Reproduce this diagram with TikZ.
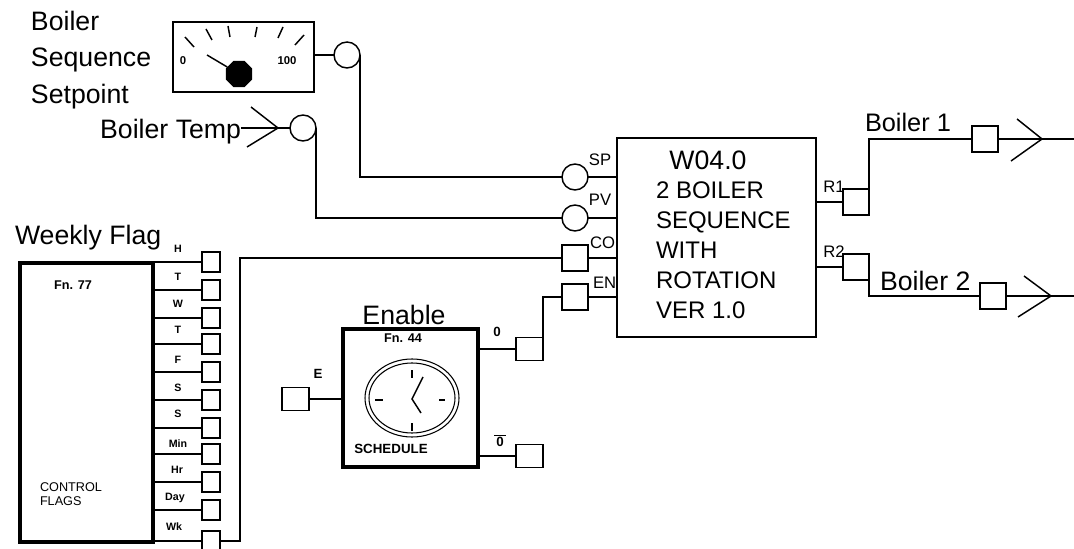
\documentclass[tikz,border=0pt]{standalone}
\usepackage{fontspec}
\setmainfont{Liberation Sans}
\usetikzlibrary{shapes.geometric, positioning}

\begin{document}
\begin{tikzpicture}[
  x=0.75pt, y=-0.75pt,
  every node/.style={inner sep=0pt, outer sep=0pt},
  block/.style={rectangle, draw, line width=1.1pt, fill=white},
  heavyblock/.style={rectangle, draw, line width=2.4pt, fill=white},
  port/.style={rectangle, draw, line width=1.1pt, fill=white, minimum width=19.5pt, minimum height=19.5pt},
  flagport/.style={rectangle, draw, line width=1.1pt, fill=white, minimum width=13.5pt, minimum height=15pt},
  schedport/.style={rectangle, draw, line width=1.1pt, fill=white, minimum width=20pt, minimum height=17pt},
  ring/.style={circle, draw, line width=1.1pt, fill=white, minimum size=19.5pt},
  wire/.style={line width=1.1pt},
  lbl/.style={font=\fontsize{20}{24}\selectfont},
  pin/.style={font=\fontsize{12.5}{15}\selectfont},
  flaglbl/.style={font=\fontsize{8}{10}\selectfont\bfseries},
  schedlbl/.style={font=\fontsize{10}{12}\selectfont\bfseries},
  smalllbl/.style={font=\fontsize{9.5}{11.5}\selectfont\bfseries}
]
\useasboundingbox (0,0) rectangle (1074,549);

% pin names sit under the main block
\node[pin] (spLbl) at (600,160) {SP};
\node[pin] (pvLbl) at (600,200) {PV};
\node[pin, anchor=west] (coLbl) at (590,243) {CO};
\node[pin, anchor=west] (enLbl) at (593,283) {EN};

\node[block, minimum width=149.25pt, minimum height=149.25pt] (seq) at (716.5,237.5) {};
\node[lbl] (seqTitle) at (708,160) {W04.0};
\node[anchor=west, align=left, font=\fontsize{18}{22.5}\selectfont] (seqText) at (656,250.5)
  {2 BOILER\\SEQUENCE\\WITH\\ROTATION\\VER 1.0};

% gauge
\node[block, minimum width=105.75pt, minimum height=52.5pt] (gauge) at (243.5,57) {};
\node[regular polygon, regular polygon sides=8, fill=black, minimum size=21.5pt] (hub) at (239,74) {};
\node[font=\fontsize{8.5}{10}\selectfont\bfseries] (gaugeLow) at (183,61) {0};
\node[font=\fontsize{8.5}{10}\selectfont\bfseries] (gaugeHigh) at (287,61) {100};
\draw[wire] (185,37) -- (194,47);
\draw[wire] (206,29) -- (212,40);
\draw[wire] (228,26) -- (230,37);
\draw[wire] (257,27) -- (255,37);
\draw[wire] (283,27) -- (278,38);
\draw[wire] (304,35) -- (295,45);
\draw[wire] (207,55) -- (hub);
\node[align=left, anchor=north west, font=\fontsize{20}{27.5}\selectfont] (gaugeLbl) at (31,11)
  {Boiler\\Sequence\\Setpoint};
\node[ring] (gaugePort) at (347,55) {};
\draw[wire] (gauge.east |- gaugePort.west) -- (gaugePort.west);

% temperature input
\node[lbl, anchor=east] (tempLbl) at (241,132) {Boiler Temp};
\node[ring] (tempPort) at (303,128) {};
\coordinate (tempTip) at (278,128);
\draw[wire] (tempLbl.east |- tempPort.west) -- (tempPort.west);
\draw[wire] (251,107) -- (tempTip) -- (247,147);

% main block inputs
\node[ring] (spPort) at (575,177) {};
\node[ring] (pvPort) at (575,218) {};
\node[port] (coPort) at (575,258) {};
\node[port] (enPort) at (575,297) {};
\draw[wire] (gaugePort.east) |- (spPort.west);
\draw[wire] (tempPort.east) |- (pvPort.west);
\draw[wire] (spPort.east) -- (spPort.east -| seq.west);
\draw[wire] (pvPort.east) -- (pvPort.east -| seq.west);
\draw[wire] (coPort.east) -- (coPort.east -| seq.west);
\draw[wire] (enPort.east) -- (enPort.east -| seq.west);

% weekly flags
\node[heavyblock, minimum width=99.75pt, minimum height=209.25pt] (flags) at (86.5,402.5) {};
\node[lbl, anchor=west] (flagsLbl) at (15,238) {Weekly Flag};
\node[smalllbl] (flagsFn) at (73,285) {Fn. 77};
\node[anchor=west, align=left, font=\fontsize{9.5}{10.5}\selectfont] (flagsText) at (40,494) {CONTROL\\FLAGS};

\node[flagport] (flagH) at (211,262) {};
\node[flagport] (flagTa) at (211,290) {};
\node[flagport] (flagW) at (211,318) {};
\node[flagport] (flagTb) at (211,344) {};
\node[flagport] (flagF) at (211,372) {};
\node[flagport] (flagSa) at (211,400) {};
\node[flagport] (flagSb) at (211,428) {};
\node[flagport] (flagMin) at (211,454) {};
\node[flagport] (flagHr) at (211,482) {};
\node[flagport] (flagDay) at (211,510) {};
\node[flagport] (flagWk) at (211,541) {};

\node[flaglbl] (lblH) at (178,249) {H};
\node[flaglbl] (lblTa) at (178,277) {T};
\node[flaglbl] (lblW) at (178,304) {W};
\node[flaglbl] (lblTb) at (178,330) {T};
\node[flaglbl] (lblF) at (178,360) {F};
\node[flaglbl] (lblSa) at (178,388) {S};
\node[flaglbl] (lblSb) at (178,414) {S};
\node[flaglbl] (lblMin) at (178,444) {Min};
\node[flaglbl] (lblHr) at (177,470) {Hr};
\node[flaglbl] (lblDay) at (175,498) {Day};
\node[flaglbl] (lblWk) at (174,527) {Wk};

\draw[wire] (flagH.west) -- (flagH.west -| flags.east);
\draw[wire] (flagTa.west) -- (flagTa.west -| flags.east);
\draw[wire] (flagW.west) -- (flagW.west -| flags.east);
\draw[wire] (flagTb.west) -- (flagTb.west -| flags.east);
\draw[wire] (flagF.west) -- (flagF.west -| flags.east);
\draw[wire] (flagSa.west) -- (flagSa.west -| flags.east);
\draw[wire] (flagSb.west) -- (flagSb.west -| flags.east);
\draw[wire] (flagMin.west) -- (flagMin.west -| flags.east);
\draw[wire] (flagHr.west) -- (flagHr.west -| flags.east);
\draw[wire] (flagDay.west) -- (flagDay.west -| flags.east);
\draw[wire] (flagWk.west) -- (flagWk.west -| flags.east);

\coordinate (flagBend) at (240,258);
\draw[wire] (flagWk.east) -| (flagBend) -- (coPort.west);

% schedule with clock
\node[heavyblock, minimum width=101.25pt, minimum height=103.5pt] (sched) at (410.5,398) {};
\node[lbl] (schedLbl) at (404,315) {Enable};
\node[smalllbl] (schedFn) at (403,338) {Fn. 44};
\node[font=\fontsize{10}{12}\selectfont\bfseries] (schedText) at (391,449) {SCHEDULE};
\node[schedlbl] (schedE) at (318,374) {E};
\node[schedlbl] (schedO) at (497,332) {0};
\node[schedlbl] (schedNotO) at (500,441) {$\overline{\mbox{\,0\,}}$};

\coordinate (clock) at (412,398);
\draw[line width=0.8pt] (clock) ellipse [x radius=47, y radius=39];
\draw[line width=0.8pt] (clock) ellipse [x radius=43, y radius=35];
\draw[wire] (412,370) -- (412,378);
\draw[wire] (412,423) -- (412,431);
\draw[wire] (375,400) -- (383,400);
\draw[wire] (439,400) -- (445,400);
\draw[wire] (423,377) -- (412,399) -- (421,413);

\node[schedport] (ePort) at (295.5,399) {};
\node[schedport] (oPort) at (529.5,349) {};
\node[schedport] (notOPort) at (529.5,456) {};
\draw[wire] (ePort.east) -- (ePort.east -| sched.west);
\draw[wire] (oPort.west) -- (oPort.west -| sched.east);
\draw[wire] (notOPort.west) -- (notOPort.west -| sched.east);
\draw[wire] (oPort.east) |- (enPort.west);

% outputs
\node[pin] (r1Lbl) at (834,187) {R1};
\node[pin] (r2Lbl) at (834,252) {R2};
\node[port] (r1Port) at (856,202) {};
\node[port] (r2Port) at (856,267) {};
\draw[wire] (r1Port.west) -- (r1Port.west -| seq.east);
\draw[wire] (r2Port.west) -- (r2Port.west -| seq.east);

\node[lbl, anchor=west, font=\fontsize{19}{23}\selectfont] (b1Lbl) at (865,122) {Boiler 1};
\node[lbl, anchor=west] (b2Lbl) at (880,281) {Boiler 2};
\node[port] (b1Port) at (985,139) {};
\node[port] (b2Port) at (993,296) {};
\draw[wire] (r1Port.east) |- (b1Port.west);
\draw[wire] (r2Port.east) |- (b2Port.west);

\coordinate (b1Tip) at (1042,139);
\coordinate (b2Tip) at (1051,296);
\coordinate (b1End) at (1074,139);
\coordinate (b2End) at (1074,296);
\draw[wire] (b1Port.east) -- (b1End);
\draw[wire] (b2Port.east) -- (b2End);
\draw[wire] (1017,119) -- (b1Tip) -- (1011,161);
\draw[wire] (1024,276) -- (b2Tip) -- (1018,317);

\end{tikzpicture}
\end{document}
